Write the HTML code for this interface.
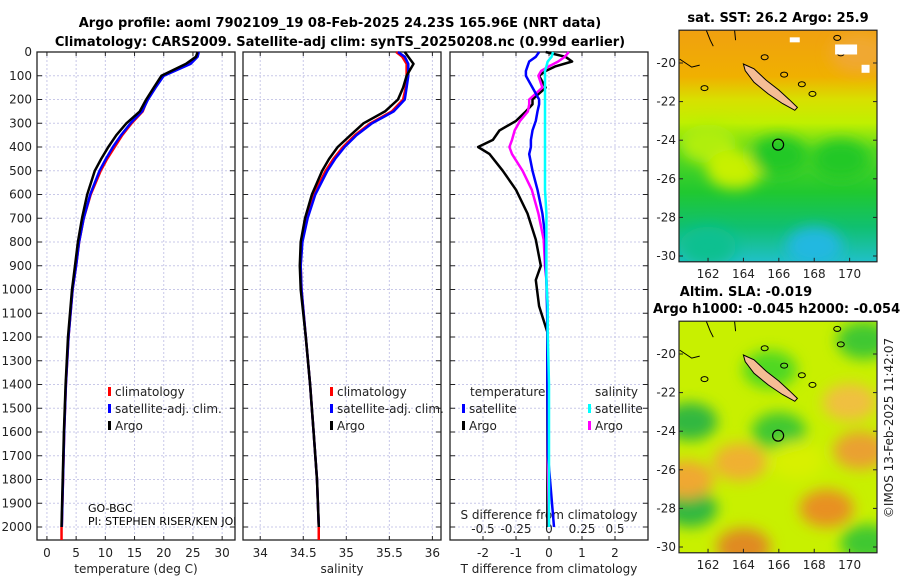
<!DOCTYPE html>
<html><head><meta charset="utf-8"><style>
body{margin:0;background:#fff;}
svg{display:block;font-family:"DejaVu Sans","Liberation Sans",sans-serif;}
.t{font-size:12px;fill:#222;}
.b{font-size:13px;font-weight:bold;fill:#000;}
</style></head><body>
<svg id="c" width="900" height="580" viewBox="0 0 900 580">
<text class="b" x="340" y="27" text-anchor="middle">Argo profile: aoml 7902109_19 08-Feb-2025 24.23S 165.96E (NRT data)</text>
<text class="b" x="340" y="46" text-anchor="middle">Climatology: CARS2009. Satellite-adj clim: synTS_20250208.nc (0.99d earlier)</text>
<g id="panels"></g>
<g id="maps"></g>
<text class="t" transform="translate(893,428) rotate(-90)" text-anchor="middle">©IMOS 13-Feb-2025 11:42:07</text>
</svg>
<script>
// ---- profile data ----
const tDepth=[0,20,50,100,150,200,250,300,350,400,450,500,600,700,800,900,1000,1200,1400,1600,1800,2000];
const tempArgo=[25.8,25.5,23.8,19.6,18.3,17.0,15.9,13.6,11.9,10.5,9.3,8.2,6.9,6.0,5.3,4.8,4.3,3.6,3.2,2.9,2.7,2.5];
const tempClim=[25.9,25.7,24.5,19.8,18.5,17.2,16.4,14.5,12.9,11.6,10.3,9.2,7.5,6.3,5.5,5.0,4.4,3.7,3.25,2.95,2.75,2.55];
const tempSat=[26.0,25.8,24.6,20.0,18.6,17.3,16.3,14.3,12.7,11.3,10.1,9.0,7.4,6.3,5.5,5.0,4.4,3.7,3.25,2.95,2.75,2.55];
const salArgo=[35.68,35.72,35.78,35.7,35.66,35.6,35.45,35.2,35.05,34.9,34.8,34.72,34.6,34.52,34.47,34.46,34.47,34.53,34.58,34.62,34.66,34.68];
const salClim=[35.58,35.65,35.7,35.7,35.69,35.66,35.53,35.28,35.1,34.96,34.85,34.76,34.62,34.54,34.48,34.47,34.48,34.53,34.58,34.62,34.66,34.68];
const salSat=[35.6,35.68,35.72,35.72,35.7,35.68,35.55,35.3,35.12,34.98,34.87,34.78,34.64,34.55,34.49,34.47,34.48,34.53,34.58,34.62,34.66,34.68];
const dDepth=[0,20,40,60,80,100,150,200,220,250,290,330,370,400,430,500,580,680,790,900,960,1070,1180,1400,1700,2000];
const tDiffArgo=[-0.1,0.5,0.7,0.2,-0.1,-0.3,-0.1,-0.5,-0.5,-0.7,-1.0,-1.5,-1.7,-2.15,-1.8,-1.4,-1.0,-0.65,-0.4,-0.25,-0.4,-0.3,-0.05,-0.05,-0.05,-0.05];
const tDiffSat=[-0.3,-0.4,-0.6,-0.65,-0.7,-0.7,-0.5,-0.3,-0.3,-0.35,-0.4,-0.5,-0.55,-0.55,-0.6,-0.5,-0.35,-0.2,-0.1,-0.1,-0.08,-0.06,-0.05,-0.05,-0.03,0.15];
const sDiffArgo=[0.15,0.12,0.07,0.0,-0.06,-0.08,-0.05,-0.15,-0.15,-0.16,-0.22,-0.26,-0.28,-0.3,-0.28,-0.2,-0.13,-0.08,-0.04,-0.03,-0.02,-0.01,-0.01,-0.01,-0.01,0];
const sDiffSat=[0.03,0.02,-0.01,-0.02,-0.03,-0.03,-0.03,-0.03,-0.03,-0.03,-0.03,-0.03,-0.03,-0.03,-0.03,-0.03,-0.03,-0.02,-0.02,-0.02,-0.02,-0.01,-0.01,0,0,0];
const depthTicks=[0,100,200,300,400,500,600,700,800,900,1000,1100,1200,1300,1400,1500,1600,1700,1800,1900,2000];
const tempTicks=[0,5,10,15,20,25,30];
const salTicks=[34,34.5,35,35.5,36];
const tdTicks=[-2,-1,0,1,2];
const sdTicks=[-0.5,-0.25,0,0.25,0.5];
const sdTickLabels=["-0.5","-0.25","0","0.25","0.5"];
// ---- map data (lon, lat) ----
const ncalLon=[164.0,164.6,165.3,166.0,166.6,167.05,166.9,166.2,165.4,164.6,164.1];
const ncalLat=[-20.05,-20.3,-20.9,-21.4,-21.9,-22.3,-22.45,-22.1,-21.6,-21.0,-20.4];
const argoLon=165.96, argoLat=-24.23;

const NS="http://www.w3.org/2000/svg";
function el(tag,attrs,parent){const e=document.createElementNS(NS,tag);for(const k in attrs)e.setAttribute(k,attrs[k]);parent.appendChild(e);return e;}
const P=document.getElementById('panels');
const yD=d=>52+d*0.2375;
const panels=[
 {x0:37,x1:235,lo:-1.7,hi:32.2,name:'temperature'},
 {x0:243,x1:441,lo:33.8,hi:36.1,name:'salinity'},
 {x0:450,x1:648,lo:-3,hi:3,name:'difference'}];
function sx(p,v){return p.x0+(v-p.lo)/(p.hi-p.lo)*(p.x1-p.x0);}
function line(p,depths,vals,color,name,w,scale){
  const pts=depths.map((d,i)=>sx(p,vals[i]*(scale||1)).toFixed(1)+','+yD(d).toFixed(1)).join(' ');
  const l=el('polyline',{points:pts,fill:'none',stroke:color,'stroke-width':w||2.5,'stroke-linejoin':'round'},P);
  
  
}
panels.forEach((p,pi)=>{
  const g=el('g',{},P);
  
  
  const ticks=pi==0?tempTicks:pi==1?salTicks:tdTicks;
  ticks.forEach(t=>{const x=sx(p,t);
    el('line',{x1:x,x2:x,y1:52,y2:540,stroke:'#c8c8e8','stroke-dasharray':'2,2','stroke-width':1},g);
    el('line',{x1:x,x2:x,y1:540,y2:536,stroke:'#222'},g);el('line',{x1:x,x2:x,y1:52,y2:56,stroke:'#222'},g);
    const tx=el('text',{class:'t',x:x,y:557,'text-anchor':'middle'},g);tx.textContent=String(t);
    
    
  });
  depthTicks.forEach(d=>{const y=yD(d);
    el('line',{x1:p.x0,x2:p.x1,y1:y,y2:y,stroke:'#c8c8e8','stroke-dasharray':'2,2','stroke-width':1},g);
    el('line',{x1:p.x0,x2:p.x0+5,y1:y,y2:y,stroke:'#222'},g);el('line',{x1:p.x1-5,x2:p.x1,y1:y,y2:y,stroke:'#222'},g);
    if(pi==0){const tx=el('text',{class:'t',x:32,y:y+4,'text-anchor':'end'},g);tx.textContent=d;
      
      }
  });
  el('rect',{x:p.x0,y:52,width:p.x1-p.x0,height:488,fill:'none',stroke:'#222','stroke-width':1.3},g);
});
// axis titles
[['temperature (deg C)',136],['salinity',342],['T difference from climatology',549]].forEach(([s,x],i)=>{
  const t=el('text',{class:'t',x:x,y:573,'text-anchor':'middle','font-size':'13'},P);t.textContent=s;
  
  });
// S diff ticks
const p3=panels[2];
const sdt=el('text',{class:'t',x:549,y:519,'text-anchor':'middle','font-size':'13'},P);sdt.textContent='S difference from climatology';


sdTicks.forEach((v,i)=>{const t=el('text',{class:'t',x:sx(p3,v*4),y:533,'text-anchor':'middle'},P);t.textContent=sdTickLabels[i];
  
  });
// lines
const p1=panels[0],p2=panels[1];
line(p1,tDepth,tempClim,'#f00','temp-climatology-line');
el('line',{x1:sx(p1,2.5),x2:sx(p1,2.5),y1:yD(2000),y2:540,stroke:'#f00','stroke-width':2.5},P);
line(p1,tDepth,tempSat,'#00f','temp-satellite-line');
line(p1,tDepth,tempArgo,'#000','temp-argo-line');
line(p2,tDepth,salClim,'#f00','sal-climatology-line');
el('line',{x1:sx(p2,34.68),x2:sx(p2,34.68),y1:yD(2000),y2:540,stroke:'#f00','stroke-width':2.5},P);
line(p2,tDepth,salSat,'#00f','sal-satellite-line');
line(p2,tDepth,salArgo,'#000','sal-argo-line');
line(p3,dDepth,tDiffArgo,'#000','tdiff-argo-line');
line(p3,dDepth,sDiffArgo,'#f0f','sdiff-argo-line',2.5,4);
line(p3,dDepth,tDiffSat,'#00f','tdiff-satellite-line');
line(p3,dDepth,sDiffSat,'#0ff','sdiff-satellite-line',2.5,4);
// legends
function leg(x,y,color,label,name){
  el('rect',{x:x,y:y-9,width:3,height:9,fill:color},P);
  const t=el('text',{class:'t',x:x+7,y:y,'font-size':'13'},P);t.textContent=label;
  
  }
[108,330].forEach((x,i)=>{leg(x,396,'#f00','climatology','legend-climatology');leg(x,413,'#00f','satellite-adj. clim.','legend-satellite-adj');leg(x,430,'#000','Argo','legend-argo');});
let lt=el('text',{class:'t',x:470,y:396,'font-size':'13'},P);lt.textContent='temperature';


lt=el('text',{class:'t',x:595,y:396,'font-size':'13'},P);lt.textContent='salinity';


leg(462,413,'#00f','satellite','legend-t-satellite');leg(462,430,'#000','Argo','legend-t-argo');
leg(588,413,'#0ff','satellite','legend-s-satellite');leg(588,430,'#f0f','Argo','legend-s-argo');
// clip panel 1 note
el('clipPath',{id:'cp1'},P).appendChild(document.createElementNS(NS,'rect'));
const cr=document.querySelector('#cp1 rect');cr.setAttribute('x',37);cr.setAttribute('y',52);cr.setAttribute('width',198);cr.setAttribute('height',488);
const note=el('g',{'clip-path':'url(#cp1)'},P);
let n=el('text',{x:88,y:512,'font-size':'11',fill:'#000'},note);n.textContent='GO-BGC';


n=el('text',{x:88,y:525,'font-size':'11',fill:'#000'},note);n.textContent='PI: STEPHEN RISER/KEN JOHNSON';



// ---- maps ----
const M=document.getElementById('maps');
const defs=el('defs',{},M);
const f=el('filter',{id:'bl',x:'-50%',y:'-50%',width:'200%',height:'200%'},defs);el('feGaussianBlur',{stdDeviation:'7'},f);
const gr=el('linearGradient',{id:'sst',x1:0,y1:0,x2:0,y2:1},defs);
[[0,'#f0a010'],[0.2,'#f0b000'],[0.3,'#d8e000'],[0.4,'#c0f000'],[0.52,'#58d820'],[0.7,'#20c830'],[0.85,'#10c070'],[1,'#20c0c8']].forEach(([o,c])=>el('stop',{offset:o,'stop-color':c},gr));
const lonX=l=>679+(l-160.36)*17.7;
const sstBlobLon=[162,163.5,169.5,166,170.5,168,162];
const sstBlobLat=[-24.2,-25.5,-25,-24.8,-19.5,-29.5,-29.5];
const sstBlobCol=['#b0ee10','#c8f000','#20c828','#20c828','#f0a830','#20b8e0','#10c090'];
const slaBlobLon=[165.5,166,161,161,170.8,171,164,168.7,170.6,163.8,160.8,170,167];
const slaBlobLat=[-20.8,-24,-23.5,-28,-19.3,-29.8,-30,-28,-25,-25.6,-26.5,-22.5,-25.5];
const slaBlobCol=['#50d820','#40c830','#30b840','#30b840','#40c830','#40c830','#e08a20','#e89020','#eaa030','#f0b030','#f0a830','#f0c040','#d8f000'];
function map(top,latTop,bg,blobLon,blobLat,blobCol,name,rx){
  const latY=lat=>top+(latTop-lat)*19.3;
  const g=el('g',{},M);
  
  
  const cid='clip'+name;
  const cp=el('clipPath',{id:cid},defs);el('rect',{x:679,y:latY(-18.3),width:198,height:latY(-30.3)-latY(-18.3)},cp);
  const inner=el('g',{'clip-path':'url(#'+cid+')'},g);
  el('rect',{x:679,y:latY(-18.3),width:198,height:latY(-30.3)-latY(-18.3),fill:bg},inner);
  const bg2=el('g',{filter:'url(#bl)'},inner);
  blobLon.forEach((lo,i)=>{const b=el('ellipse',{cx:lonX(lo),cy:latY(blobLat[i]),rx:rx,ry:rx*0.7,fill:blobCol[i]},bg2);
    
    });
  const pts=ncalLon.map((lo,i)=>lonX(lo).toFixed(1)+','+latY(ncalLat[i]).toFixed(1)).join(' ');
  const isl=el('polygon',{points:pts,fill:'#f5bd95',stroke:'#000','stroke-width':1},inner);
  
  
  el('path',{d:`M${lonX(160.4)},${latY(-19.8)} l12,8 l8,-2 M${lonX(161.9)},${latY(-18.3)} l4,10 l3,6 M${lonX(163.5)},${latY(-18.3)} l1,10`,fill:'none',stroke:'#000','stroke-width':1},inner);
  [[161.8,-21.3],[165.2,-19.7],[166.3,-20.6],[167.3,-21.1],[167.9,-21.6],[169.3,-18.7],[169.5,-19.5]].forEach(([lo,la])=>el('ellipse',{cx:lonX(lo),cy:latY(la),rx:3.5,ry:2.5,fill:'none',stroke:'#000','stroke-width':1},inner));
  const c=el('circle',{cx:lonX(argoLon),cy:latY(argoLat),r:5.5,fill:'none',stroke:'#000','stroke-width':1.2},inner);
  
  
  el('rect',{x:679,y:latY(-18.3),width:198,height:latY(-30.3)-latY(-18.3),fill:'none',stroke:'#222','stroke-width':1.2},g);
  [-20,-22,-24,-26,-28,-30].forEach(la=>{const y=latY(la);
    el('line',{x1:679,x2:683,y1:y,y2:y,stroke:'#222'},g);el('line',{x1:873,x2:877,y1:y,y2:y,stroke:'#222'},g);
    const t=el('text',{class:'t',x:676,y:y+4,'text-anchor':'end'},g);t.textContent=la;
    
    });
  [162,164,166,168,170].forEach(lo=>{const x=lonX(lo);const yb=latY(-30.3);
    el('line',{x1:x,x2:x,y1:yb-4,y2:yb,stroke:'#222'},g);
    const t=el('text',{class:'t',x:x,y:yb+16,'text-anchor':'middle'},g);t.textContent=lo;
    
    });
  return latY;
}
const ly1=map(63,-20,'url(#sst)',sstBlobLon,sstBlobLat,sstBlobCol,'sst-map',28);
[[169.8,-19.3,22,10],[170.9,-20.3,8,8],[166.9,-18.8,10,5]].forEach(([lo,la,w,h])=>el('rect',{x:lonX(lo)-w/2,y:ly1(la)-h/2,width:w,height:h,fill:'#fff'},M));
map(354,-20,'#c8f000',slaBlobLon,slaBlobLat,slaBlobCol,'sla-map',27);
let mt=el('text',{class:'b',x:778,y:22,'text-anchor':'middle'},M);mt.textContent='sat. SST: 26.2 Argo: 25.9';


mt=el('text',{class:'b',x:746,y:296,'text-anchor':'middle'},M);mt.textContent='Altim. SLA: -0.019';


mt=el('text',{class:'b',x:653,y:313},M);mt.textContent='Argo h1000: -0.045 h2000: -0.054';


</script>
</body></html>
